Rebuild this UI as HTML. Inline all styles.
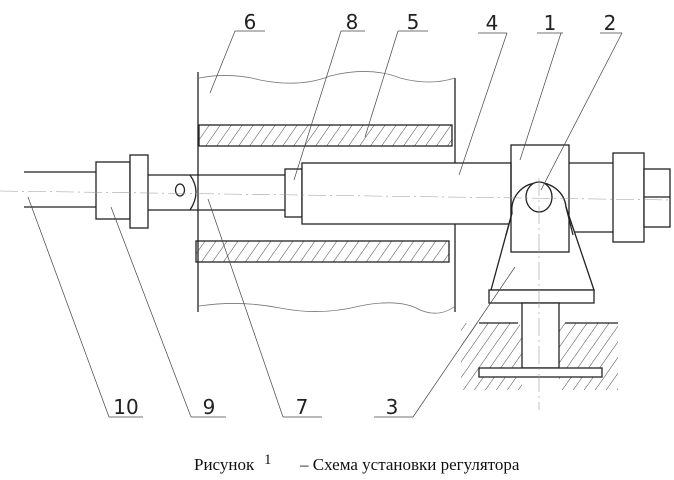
<!DOCTYPE html>
<html><head><meta charset="utf-8"><style>
html,body{margin:0;padding:0;background:#fff;width:674px;height:480px;overflow:hidden}
svg{display:block}
</style></head><body>
<svg width="674" height="480" viewBox="0 0 674 480" xmlns="http://www.w3.org/2000/svg">
<defs>
<pattern id="h" patternUnits="userSpaceOnUse" width="9" height="9" patternTransform="rotate(35)">
<line x1="0" y1="0" x2="0" y2="9" stroke="#333" stroke-width="0.9"/>
</pattern>
</defs>
<g fill="none" stroke="#222" stroke-width="1.3">
<line x1="198" y1="72" x2="198" y2="312"/>
<line x1="455" y1="78" x2="455" y2="312"/>
<path d="M199 78 Q230 72 260 80 Q300 88 330 76 Q370 66 400 78 Q430 86 455 78" stroke-width="0.8" stroke="#777"/>
<path d="M199 306 Q240 300 280 308 Q320 316 360 306 Q400 298 420 310 Q440 318 455 306" stroke-width="0.8" stroke="#777"/>
<rect x="199" y="125" width="253" height="21" fill="url(#h)"/>
<rect x="196" y="241" width="253" height="21" fill="url(#h)"/>
<line x1="24" y1="172" x2="96" y2="172"/>
<line x1="24" y1="207" x2="96" y2="207"/>
<rect x="96" y="162" width="34" height="57" fill="#fff"/>
<rect x="130" y="155" width="18" height="73" fill="#fff"/>
<line x1="148" y1="175" x2="285" y2="175"/>
<line x1="148" y1="210" x2="285" y2="210"/>
<path d="M190 175 Q202 192 190 210"/>
<ellipse cx="180" cy="190" rx="4.5" ry="6"/>
<rect x="285" y="169" width="17" height="48" fill="#fff"/>
<rect x="302" y="163" width="209" height="61" fill="#fff"/>
<line x1="569" y1="163" x2="613" y2="163"/>
<line x1="569" y1="232" x2="613" y2="232"/>
<rect x="613" y="153" width="31" height="89" fill="#fff"/>
<rect x="644" y="169" width="26" height="58" fill="#fff"/>
<line x1="644" y1="197" x2="670" y2="197"/>
<path d="M491 290 L512 213 A27 27 0 0 1 566 207 L594 290 Z" fill="#fff"/>
<rect x="511" y="145" width="58" height="107"/>
<path d="M512 213 A27 27 0 0 1 566 207" fill="#fff"/>
<line x1="512" y1="213" x2="506" y2="235"/>
<line x1="566" y1="207" x2="573" y2="235"/>
<ellipse cx="539" cy="197" rx="13" ry="15" fill="#fff"/>
<rect x="489" y="290" width="105" height="13" fill="#fff"/>
<path d="M461 323 L518 323 Q522 325 522 332 L522 390 L461 390 Z" fill="url(#h)" stroke="none"/>
<path d="M559 332 Q559 325 565 323 L618 323 L618 390 L559 390 Z" fill="url(#h)" stroke="none"/>
<line x1="479" y1="323" x2="518" y2="323"/>
<line x1="565" y1="323" x2="618" y2="323"/>
<rect x="522" y="303" width="37" height="65" fill="#fff"/>
<rect x="479" y="368" width="123" height="9" fill="#fff"/>
<line x1="0" y1="191" x2="672" y2="200" stroke="#999" stroke-width="0.6" stroke-dasharray="18 4 2 4"/>
<line x1="539" y1="178" x2="539" y2="410" stroke="#999" stroke-width="0.6" stroke-dasharray="18 4 2 4"/>
<g stroke-width="0.7" stroke="#444">
<line x1="235" y1="31" x2="265" y2="31"/><line x1="235" y1="31" x2="210" y2="93"/>
<line x1="341" y1="31" x2="365" y2="31"/><line x1="341" y1="31" x2="294" y2="180"/>
<line x1="398" y1="31" x2="428" y2="31"/><line x1="398" y1="31" x2="365" y2="137"/>
<line x1="478" y1="33" x2="507" y2="33"/><line x1="507" y1="33" x2="459" y2="175"/>
<line x1="537" y1="33" x2="563" y2="33"/><line x1="561" y1="33" x2="520" y2="160"/>
<line x1="600" y1="33" x2="622" y2="33"/><line x1="622" y1="33" x2="541" y2="190"/>
<line x1="109" y1="417" x2="143" y2="417"/><line x1="109" y1="417" x2="28" y2="197"/>
<line x1="191" y1="417" x2="226" y2="417"/><line x1="191" y1="417" x2="111" y2="207"/>
<line x1="283" y1="417" x2="322" y2="417"/><line x1="283" y1="417" x2="208" y2="199"/>
<line x1="374" y1="417" x2="413" y2="417"/><line x1="413" y1="417" x2="515" y2="267"/>
</g>
</g>
<g font-family="'DejaVu Sans','Liberation Sans',sans-serif" font-size="20" fill="#222" text-anchor="middle">
<text x="250" y="29">6</text><text x="352" y="29">8</text><text x="413" y="29">5</text>
<text x="492" y="30">4</text><text x="550" y="30">1</text><text x="610" y="30">2</text>
<text x="126" y="414">10</text><text x="209" y="414">9</text><text x="302" y="414">7</text><text x="392" y="414">3</text>
</g>
<text x="194" y="470" font-family="'Liberation Serif',serif" font-size="17" fill="#111">Рисунок</text>
<text x="264" y="464" font-family="'Liberation Serif',serif" font-size="15" fill="#111">1</text>
<text x="300" y="470" font-family="'Liberation Serif',serif" font-size="17" fill="#111">– Схема установки регулятора</text>
</svg>
</body></html>
